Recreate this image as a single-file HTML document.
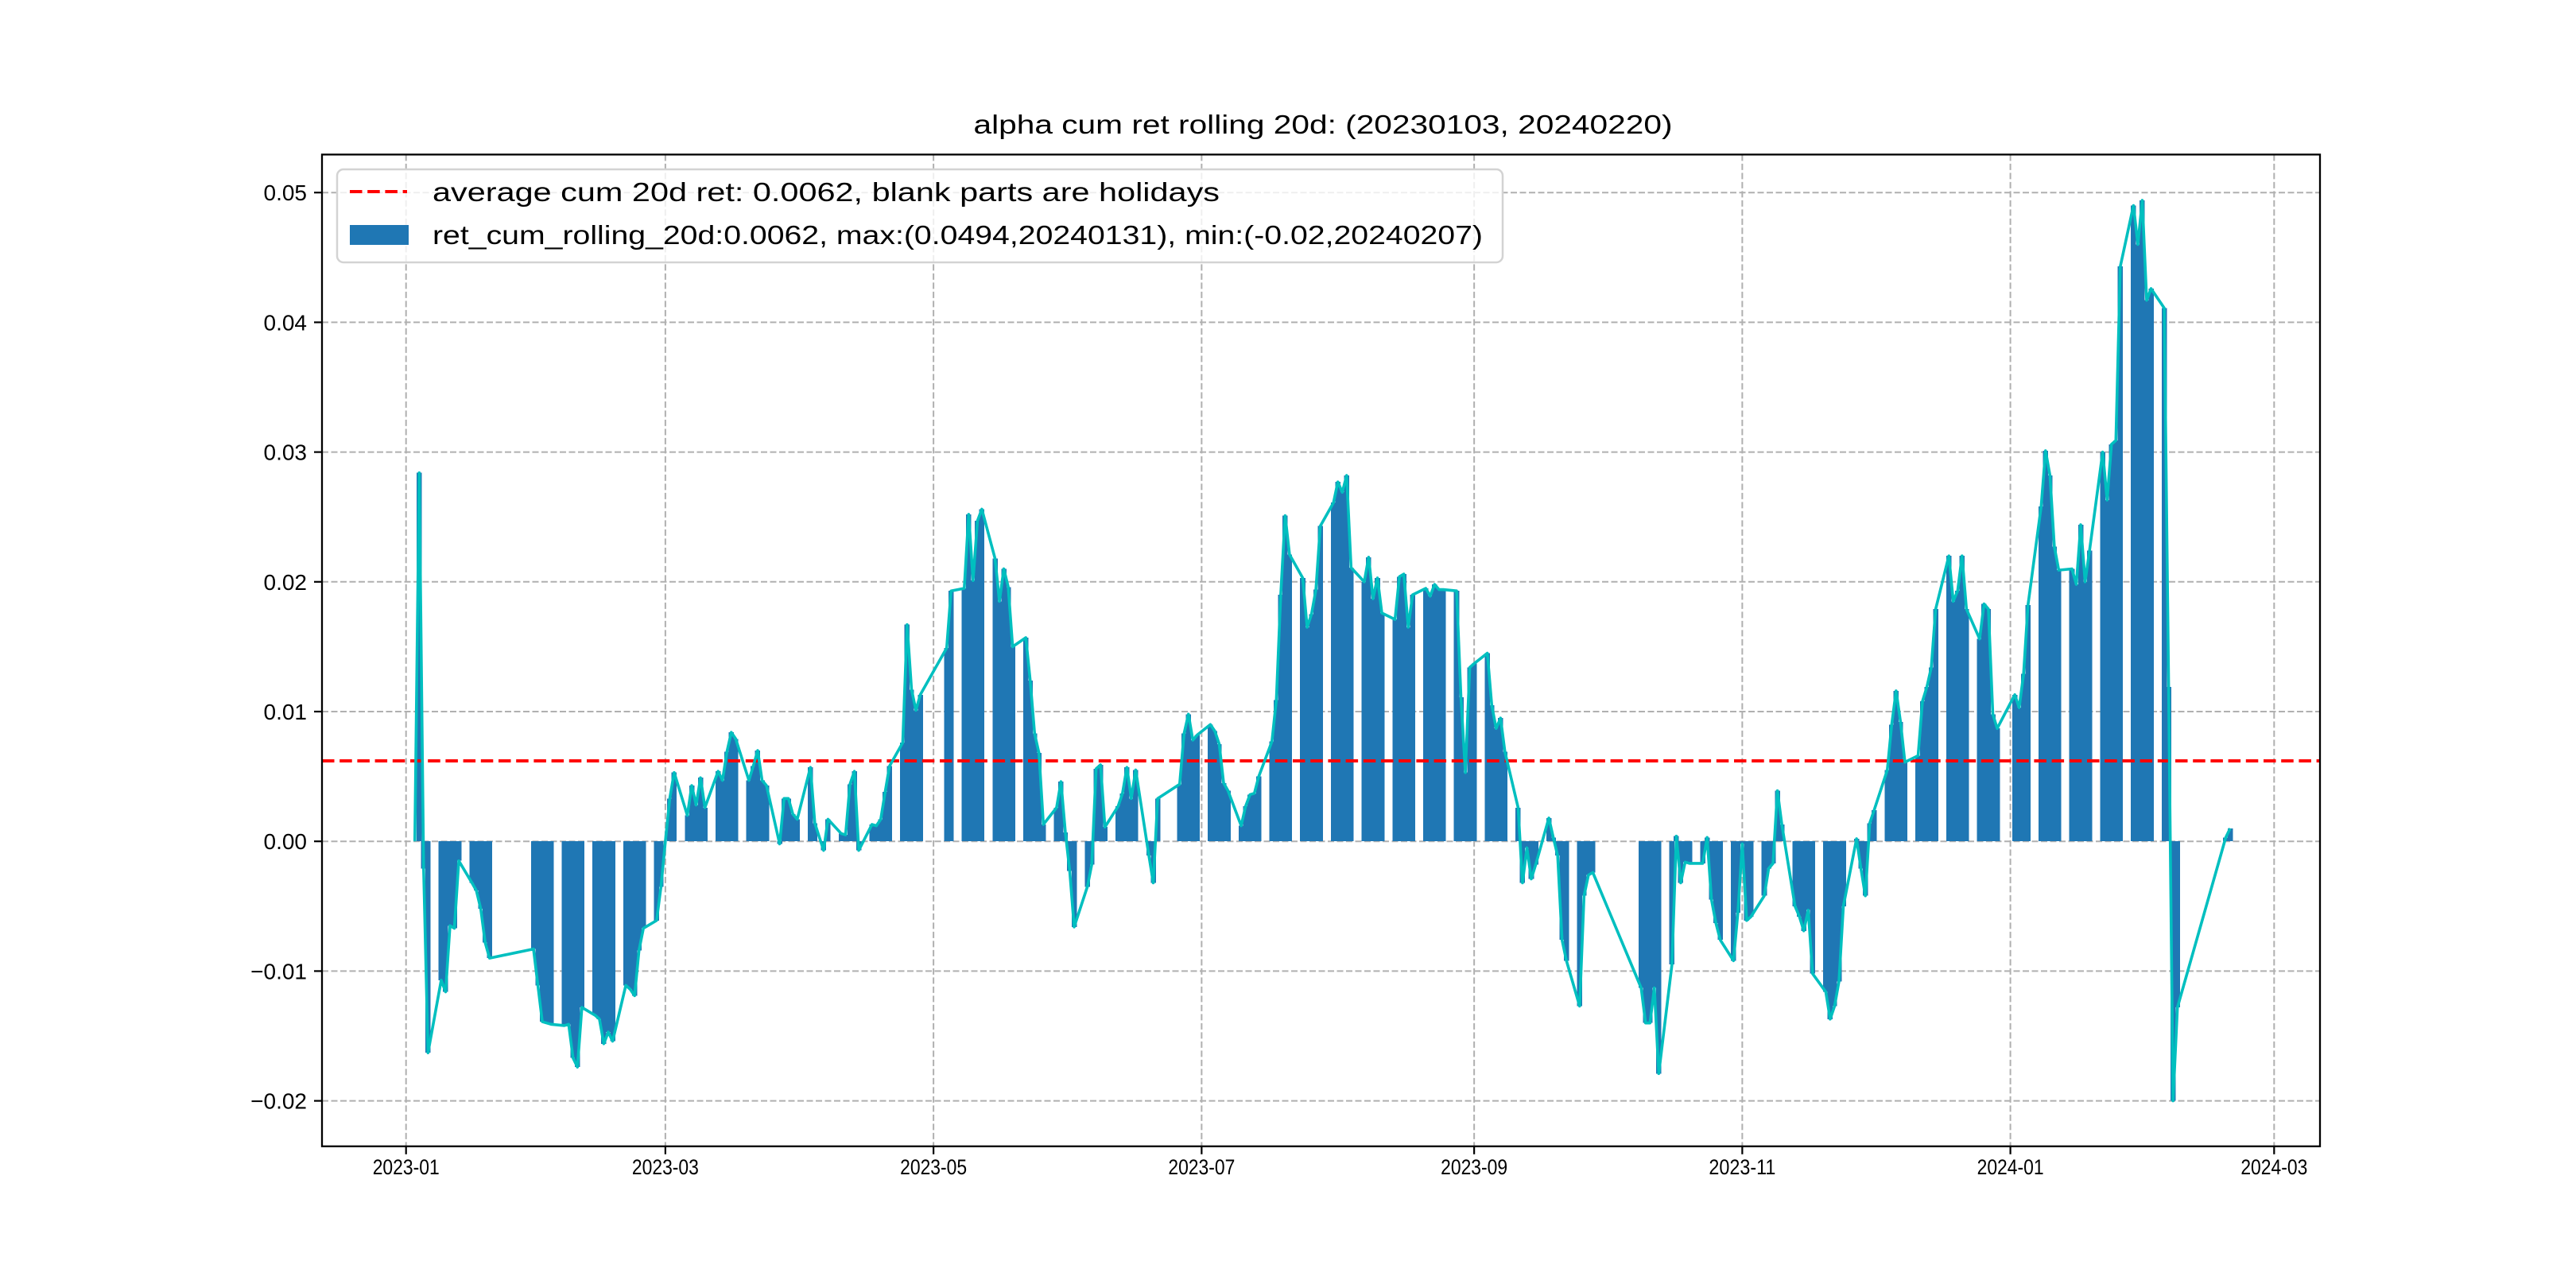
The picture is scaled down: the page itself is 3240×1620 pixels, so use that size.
<!DOCTYPE html>
<html><head><meta charset="utf-8"><style>
html,body{margin:0;padding:0;background:#fff;}
svg{display:block;}
text{font-family:"Liberation Sans","Noto Sans CJK SC",sans-serif;fill:#000;}
</style></head><body>
<svg id="chart" width="3240" height="1620" viewBox="0 0 3240 1620" xmlns="http://www.w3.org/2000/svg">
<rect x="0" y="0" width="3240" height="1620" fill="#fff"/>
<text x="1664" y="168" font-size="33" text-anchor="middle" textLength="879" lengthAdjust="spacingAndGlyphs">alpha cum ret rolling 20d: (20230103, 20240220)</text>
<g id="grid"></g>
<g id="bars" shape-rendering="crispEdges"></g>
<line x1="405" x2="2918" y1="0" y2="0" id="avgline" stroke="#ff0000" stroke-width="4" stroke-dasharray="15.5,6.7"/>
<polyline id="line" fill="none" stroke="#00bfbf" stroke-width="3.6" stroke-linejoin="round"/>
<rect x="405" y="194.4" width="2513" height="1247.4" fill="none" stroke="#000" stroke-width="2.3"/>
<g id="ticks"></g>
<g>
<rect x="424" y="213" width="1466" height="117" rx="8" fill="#fff" fill-opacity="0.8" stroke="#d3d3d3" stroke-width="2.5"/>
<line x1="440" x2="512" y1="241" y2="241" stroke="#ff0000" stroke-width="4" stroke-dasharray="15.5,6.7"/>
<text x="544" y="253" font-size="33" textLength="990" lengthAdjust="spacingAndGlyphs">average cum 20d ret: 0.0062, blank parts are holidays</text>
<rect x="440" y="283" width="74" height="25" fill="#1f77b4"/>
<text x="544" y="307" font-size="33" textLength="1321" lengthAdjust="spacingAndGlyphs">ret_cum_rolling_20d:0.0062, max:(0.0494,20240131), min:(-0.02,20240207)</text>
</g>
</svg>
<script>
const avgValue = 0.0062;
const dates = [
"2023-01-03","2023-01-04","2023-01-05","2023-01-06","2023-01-09","2023-01-10","2023-01-11","2023-01-12","2023-01-13","2023-01-16","2023-01-17","2023-01-18","2023-01-19","2023-01-20","2023-01-30","2023-01-31",
"2023-02-01","2023-02-02","2023-02-03","2023-02-06","2023-02-07","2023-02-08","2023-02-09","2023-02-10","2023-02-13","2023-02-14","2023-02-15","2023-02-16","2023-02-17","2023-02-20","2023-02-21","2023-02-22","2023-02-23","2023-02-24","2023-02-27","2023-02-28",
"2023-03-01","2023-03-02","2023-03-03","2023-03-06","2023-03-07","2023-03-08","2023-03-09","2023-03-10","2023-03-13","2023-03-14","2023-03-15","2023-03-16","2023-03-17","2023-03-20","2023-03-21","2023-03-22","2023-03-23","2023-03-24","2023-03-27","2023-03-28","2023-03-29","2023-03-30","2023-03-31",
"2023-04-03","2023-04-04","2023-04-06","2023-04-07","2023-04-10","2023-04-11","2023-04-12","2023-04-13","2023-04-14","2023-04-17","2023-04-18","2023-04-19","2023-04-20","2023-04-21","2023-04-24","2023-04-25","2023-04-26","2023-04-27","2023-04-28",
"2023-05-04","2023-05-05","2023-05-08","2023-05-09","2023-05-10","2023-05-11","2023-05-12","2023-05-15","2023-05-16","2023-05-17","2023-05-18","2023-05-19","2023-05-22","2023-05-23","2023-05-24","2023-05-25","2023-05-26","2023-05-29","2023-05-30","2023-05-31",
"2023-06-01","2023-06-02","2023-06-05","2023-06-06","2023-06-07","2023-06-08","2023-06-09","2023-06-12","2023-06-13","2023-06-14","2023-06-15","2023-06-16","2023-06-19","2023-06-20","2023-06-21","2023-06-26","2023-06-27","2023-06-28","2023-06-29","2023-06-30",
"2023-07-03","2023-07-04","2023-07-05","2023-07-06","2023-07-07","2023-07-10","2023-07-11","2023-07-12","2023-07-13","2023-07-14","2023-07-17","2023-07-18","2023-07-19","2023-07-20","2023-07-21","2023-07-24","2023-07-25","2023-07-26","2023-07-27","2023-07-28","2023-07-31",
"2023-08-01","2023-08-02","2023-08-03","2023-08-04","2023-08-07","2023-08-08","2023-08-09","2023-08-10","2023-08-11","2023-08-14","2023-08-15","2023-08-16","2023-08-17","2023-08-18","2023-08-21","2023-08-22","2023-08-23","2023-08-24","2023-08-25","2023-08-28","2023-08-29","2023-08-30","2023-08-31",
"2023-09-01","2023-09-04","2023-09-05","2023-09-06","2023-09-07","2023-09-08","2023-09-11","2023-09-12","2023-09-13","2023-09-14","2023-09-15","2023-09-18","2023-09-19","2023-09-20","2023-09-21","2023-09-22","2023-09-25","2023-09-26","2023-09-27","2023-09-28",
"2023-10-09","2023-10-10","2023-10-11","2023-10-12","2023-10-13","2023-10-16","2023-10-17","2023-10-18","2023-10-19","2023-10-20","2023-10-23","2023-10-24","2023-10-25","2023-10-26","2023-10-27","2023-10-30","2023-10-31",
"2023-11-01","2023-11-02","2023-11-03","2023-11-06","2023-11-07","2023-11-08","2023-11-09","2023-11-10","2023-11-13","2023-11-14","2023-11-15","2023-11-16","2023-11-17","2023-11-20","2023-11-21","2023-11-22","2023-11-23","2023-11-24","2023-11-27","2023-11-28","2023-11-29","2023-11-30",
"2023-12-01","2023-12-04","2023-12-05","2023-12-06","2023-12-07","2023-12-08","2023-12-11","2023-12-12","2023-12-13","2023-12-14","2023-12-15","2023-12-18","2023-12-19","2023-12-20","2023-12-21","2023-12-22","2023-12-25","2023-12-26","2023-12-27","2023-12-28","2023-12-29",
"2024-01-02","2024-01-03","2024-01-04","2024-01-05","2024-01-08","2024-01-09","2024-01-10","2024-01-11","2024-01-12","2024-01-15","2024-01-16","2024-01-17","2024-01-18","2024-01-19","2024-01-22","2024-01-23","2024-01-24","2024-01-25","2024-01-26","2024-01-29","2024-01-30","2024-01-31",
"2024-02-01","2024-02-02","2024-02-05","2024-02-06","2024-02-07","2024-02-08","2024-02-19","2024-02-20"];
const values = [
0,0.0284,-0.0021,-0.0163,-0.0107,-0.0116,-0.0065,-0.0067,-0.0015,-0.0032,-0.0038,-0.0052,-0.0078,-0.009,-0.0083,-0.0111,
-0.0139,-0.014,-0.0141,-0.0142,-0.0141,-0.0167,-0.0174,-0.0128,-0.0134,-0.0137,-0.0156,-0.0147,-0.0154,-0.0111,-0.0114,-0.0119,-0.0084,-0.0067,-0.0061,-0.0035,
0.0,0.0033,0.0053,0.002,0.0043,0.0028,0.0049,0.0026,0.0054,0.0047,0.0069,0.0084,0.0079,0.0047,0.0058,0.007,0.0047,0.0043,-0.0002,0.0033,0.0033,0.0021,0.0017,
0.0057,0.0014,-0.0007,0.0017,0.0006,0.0005,0.0044,0.0054,-0.0007,0.0013,0.0012,0.0017,0.0038,0.0058,0.0076,0.0167,0.0117,0.0101,0.0113,
0.0149,0.0193,0.0195,0.0252,0.0201,0.0247,0.0256,0.0218,0.0185,0.021,0.0196,0.015,0.0157,0.0124,0.0083,0.0068,0.0013,0.0026,0.0046,0.0007,
-0.0023,-0.0066,-0.0035,-0.0018,0.0056,0.0059,0.0011,0.0027,0.0037,0.0057,0.0033,0.0055,-0.0011,-0.0032,0.0033,0.0044,0.0083,0.0098,0.0078,0.0082,
0.009,0.0085,0.0075,0.0045,0.0039,0.0012,0.0027,0.0036,0.0037,0.005,0.0077,0.0109,0.019,0.0251,0.0221,0.0203,0.0165,0.0175,0.0194,0.0243,0.0261,
0.0277,0.0269,0.0282,0.0211,0.02,0.0219,0.0187,0.0203,0.0176,0.0171,0.0204,0.0206,0.0165,0.019,0.0195,0.0189,0.0198,0.0194,0.0194,0.0193,0.0111,0.0053,0.0134,
0.0137,0.0145,0.0105,0.0087,0.0095,0.0069,0.0026,-0.0032,-0.0005,-0.0029,-0.0018,0.0018,0.0003,-0.0011,-0.0076,-0.0092,-0.0127,-0.0042,-0.0026,-0.0024,
-0.0113,-0.014,-0.014,-0.0113,-0.0179,-0.0095,0.0004,-0.0032,-0.0016,-0.0017,-0.0017,0.0003,-0.0045,-0.0063,-0.0076,-0.0092,-0.0055,
-0.0002,-0.0061,-0.0058,-0.0042,-0.0021,-0.0017,0.0039,0.0013,-0.005,-0.0058,-0.0069,-0.0053,-0.0102,-0.0116,-0.0137,-0.0127,-0.0108,-0.005,0.0002,-0.0021,-0.0042,0.0014,
0.0024,0.0055,0.009,0.0116,0.0092,0.0061,0.0066,0.0108,0.0119,0.0134,0.0179,0.022,0.0185,0.0193,0.022,0.0179,0.0156,0.0183,0.0179,0.0098,0.0087,
0.0113,0.0103,0.0129,0.0182,0.0258,0.0301,0.0282,0.0227,0.0209,0.021,0.0198,0.0244,0.02,0.0224,0.03,0.0263,0.0306,0.0309,0.0443,0.049,0.046,0.0494,
0.0417,0.0426,0.0411,0.0119,-0.02,-0.0128,0.0003,0.001];
const yTicks = [-0.02,-0.01,0,0.01,0.02,0.03,0.04,0.05];
const yTickLabels = ["\u22120.02","\u22120.01","0.00","0.01","0.02","0.03","0.04","0.05"];
const xTickDates = ["2023-01-01","2023-03-01","2023-05-01","2023-07-01","2023-09-01","2023-11-01","2024-01-01","2024-03-01"];
const xTickLabels = ["2023-01","2023-03","2023-05","2023-07","2023-09","2023-11","2024-01","2024-03"];

const NS = "http://www.w3.org/2000/svg";
const PX_PER_DAY = 5.5285, X0 = 510.7, Y0 = 1058.2, PX_PER_UNIT = 16320;
const T0 = Date.UTC(2023,0,1);
function dayOf(s){const p=s.split("-");return (Date.UTC(+p[0],+p[1]-1,+p[2])-T0)/86400000;}
function xScale(s){return X0 + dayOf(s)*PX_PER_DAY;}
function yScale(v){return Y0 - v*PX_PER_UNIT;}
function mk(tag, attrs, parent){const e=document.createElementNS(NS,tag);for(const k in attrs)e.setAttribute(k,attrs[k]);parent.appendChild(e);return e;}

const grid=document.getElementById("grid"), ticks=document.getElementById("ticks"), bars=document.getElementById("bars");
yTicks.forEach((v,i)=>{
  const y=yScale(v);
  const g=mk("line",{x1:405,x2:2918,y1:y,y2:y,stroke:"#b0b0b0","stroke-width":2,"stroke-dasharray":"8,3.5"},grid);
  
  
  const t=mk("line",{x1:395,x2:405,y1:y,y2:y,stroke:"#000","stroke-width":2.2},ticks);
  
  
  const lb=mk("text",{x:386,y:y+10,"font-size":28,"text-anchor":"end"},ticks);
  lb.textContent=yTickLabels[i];
  
  
});
xTickDates.forEach((d,i)=>{
  const x=xScale(d);
  const g=mk("line",{x1:x,x2:x,y1:194.4,y2:1441.8,stroke:"#b0b0b0","stroke-width":2,"stroke-dasharray":"8,3.5"},grid);
  
  
  const t=mk("line",{x1:x,x2:x,y1:1441.8,y2:1451.8,stroke:"#000","stroke-width":2.2},ticks);
  
  
  const lb=mk("text",{x:x,y:1477,"font-size":27,"text-anchor":"middle",textLength:84,lengthAdjust:"spacingAndGlyphs"},ticks);
  lb.textContent=xTickLabels[i];
  
  
});
const pts=[];
dates.forEach((d,i)=>{
  const x=xScale(d), y=yScale(values[i]), y0=yScale(0);
  const r=mk("rect",{x:x-PX_PER_DAY/2-0.5,y:Math.min(y,y0),width:PX_PER_DAY+1,height:Math.max(Math.abs(y-y0),0.01),fill:"#1f77b4"},bars);
  
  
  pts.push(x.toFixed(2)+","+y.toFixed(2));
});
document.getElementById("line").setAttribute("points",pts.join(" "));
const al=document.getElementById("avgline");
al.setAttribute("y1",yScale(avgValue));al.setAttribute("y2",yScale(avgValue));
</script>
</body></html>
